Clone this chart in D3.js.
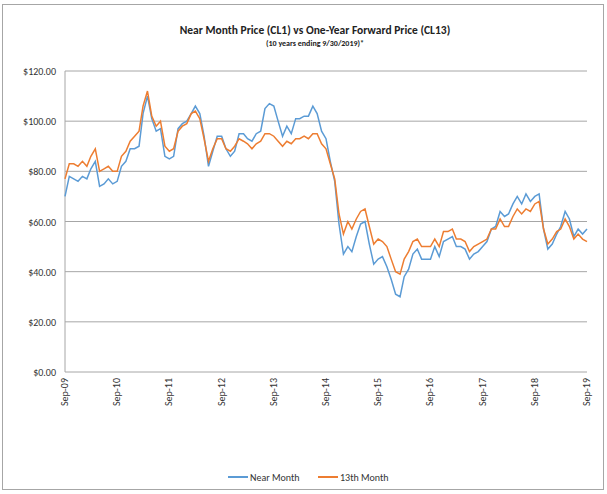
<!DOCTYPE html>
<html><head><meta charset="utf-8">
<script src="https://cdn.jsdelivr.net/npm/d3@7"></script>
<style>body{margin:0;background:#fff;font-family:Calibri,Carlito,"Open Sans",sans-serif}</style>
</head><body><svg id="c" width="607" height="494"></svg>
<script>
const startMonth = "2009-09";
const nearMonth = [70,78,77,76,
78,77,81,84,74,75,77,75,76,82,84,89,
89,90,103,110,101,96,97,86,85,86,97,99,
100,103,106,103,94,82,88,94,94,89,86,88,
95,95,93,92,95,96,105,107,106,100,94,98,
95,101,101,102,102,106,103,96,93,84,76,59,
47,50,48,54,59,60,51,43,45,46,42,37,
31,30,38,41,47,49,45,45,45,50,46,52,
53,54,50,50,49,45,47,48,50,52,57,58,
64,62,63,67,70,67,71,68,70,71,57,49,
51,55,58,64,61,54,57,55,57];
const month13 = [77,83,83,82,
84,82,86,89,80,81,82,80,80,86,88,92,
94,96,106,112,102,98,100,90,88,89,96,98,
99,103,104,101,93,84,89,93,93,89,88,90,
93,92,91,89,91,92,95,95,94,92,90,92,
91,93,93,94,93,95,95,91,89,83,77,63,
55,60,57,61,64,65,58,51,53,52,50,45,
40,39,45,48,52,53,50,50,50,53,50,56,
56,57,53,53,52,48,50,51,52,53,57,57,
61,58,58,62,65,63,65,64,67,68,57,51,
53,56,57,61,58,53,55,53,52];
const yTicks = [0,20,40,60,80,100,120];
const xTickLabels = ["Sep-09","Sep-10","Sep-11","Sep-12","Sep-13","Sep-14","Sep-15","Sep-16","Sep-17","Sep-18","Sep-19"];

const svg = d3.select("#c");
svg.append("rect").attr("x",2.5).attr("y",4.5).attr("width",601).attr("height",485).attr("fill","#fff").attr("stroke","#a6a6a6");
const t0 = d3.timeParse("%Y-%m")(startMonth);
const dates = nearMonth.map((_,i)=>d3.timeMonth.offset(t0,i));
const x = d3.scaleTime().domain([t0, d3.timeMonth.offset(t0,120)]).range([65,587]);
const y = d3.scaleLinear().domain([0,120]).range([372,71]);

svg.append("g").selectAll("line").data(yTicks.slice(1)).join("line")
 .attr("x1",65).attr("x2",587).attr("y1",d=>y(d)).attr("y2",d=>y(d)).attr("stroke","#a6a6a6").attr("stroke-width",1);
svg.append("line").attr("x1",65).attr("x2",587).attr("y1",y(0)).attr("y2",y(0)).attr("stroke","#a6a6a6");
svg.append("line").attr("x1",65).attr("x2",65).attr("y1",y(120)).attr("y2",y(0)).attr("stroke","#a6a6a6");
svg.append("g").selectAll("text").data(yTicks).join("text")
 .attr("x",56).attr("y",d=>y(d)+4).attr("text-anchor","end").attr("font-size",10).attr("fill","#333")
 .text(d=>"$"+d.toFixed(2));
svg.append("g").selectAll("text").data(xTickLabels).join("text")
 .attr("transform",(d,i)=>`translate(${x(d3.timeMonth.offset(t0,12*i))+3},378) rotate(-90)`)
 .attr("text-anchor","end").attr("font-size",10).attr("fill","#333").text(d=>d);

const line = d3.line().x((d,i)=>x(dates[i])).y(d=>y(d));
svg.append("path").datum(nearMonth).attr("d",line).attr("fill","none").attr("stroke","#5B9BD5").attr("stroke-width",1.5);
svg.append("path").datum(month13).attr("d",line).attr("fill","none").attr("stroke","#ED7D31").attr("stroke-width",1.5);

svg.append("text").attr("x",315).attr("y",34).attr("text-anchor","middle").attr("font-size",11.5).attr("font-weight","bold").attr("fill","#222").text("Near Month Price (CL1) vs One-Year Forward Price (CL13)");
svg.append("text").attr("x",315).attr("y",46).attr("text-anchor","middle").attr("font-size",8).attr("font-weight","bold").attr("fill","#222").text("(10 years ending 9/30/2019)*");

const leg = [["Near Month","#5B9BD5",228],["13th Month","#ED7D31",318]];
leg.forEach(([n,c,lx])=>{
 svg.append("line").attr("x1",lx).attr("x2",lx+20).attr("y1",477).attr("y2",477).attr("stroke",c).attr("stroke-width",2);
 svg.append("text").attr("x",lx+22).attr("y",481).attr("font-size",10).attr("fill","#333").text(n);
});
</script></body></html>
